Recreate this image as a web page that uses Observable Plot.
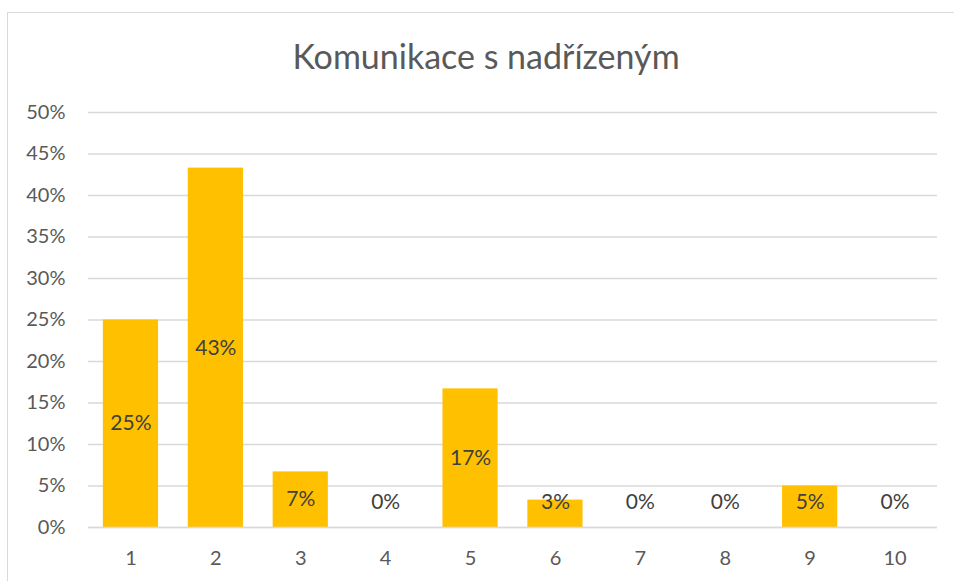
<!DOCTYPE html>
<html><head><meta charset="utf-8">
<script src="https://cdn.jsdelivr.net/npm/d3@7"></script>
<script src="https://cdn.jsdelivr.net/npm/@observablehq/plot@0.6"></script>
<style>
body{margin:0;background:#fff;width:954px;height:581px;overflow:hidden;position:relative}
#frame{position:absolute;left:7px;top:12px;width:970px;height:600px;border:1px solid #d9d9d9;box-sizing:border-box}
#title{position:absolute;left:0;width:972px;top:36px;text-align:center;font-family:Lato;font-size:34px;line-height:40px;color:#595959}
#chart{position:absolute;left:0;top:80px}
</style></head>
<body>
<div id="frame"></div>
<div id="title">Komunikace s nadřízeným</div>
<div id="chart"></div>
<script>
const categories = ["1","2","3","4","5","6","7","8","9","10"];
const values = [25, 43.3, 6.7, 0, 16.7, 3.3, 0, 0, 5, 0];
const labels = ["25%","43%","7%","0%","17%","3%","0%","0%","5%","0%"];
const yTicks = [0,5,10,15,20,25,30,35,40,45,50];
const data = categories.map((c,i)=>({cat:c,value:values[i],label:labels[i]}));
const chart = Plot.plot({
  width:954,height:501,marginTop:32,marginBottom:54,marginLeft:88,marginRight:17,
  style:{fontFamily:"Lato",fontSize:"20px",color:"#595959",background:"transparent"},
  x:{domain:categories,paddingInner:0.35,paddingOuter:0.175,round:false,label:null,tickSize:0,tickPadding:23},
  y:{domain:[0,50],ticks:yTicks,tickFormat:d=>d+"%",label:null,tickSize:0,tickPadding:23},
  marks:[
    Plot.gridY(yTicks,{stroke:"#d9d9d9",strokeOpacity:1,strokeWidth:1.3}),
    Plot.barY(data,{x:"cat",y:"value",fill:"#FFC000"}),
    Plot.ruleY([0],{stroke:"#d9d9d9",strokeWidth:1.3}),
    Plot.text(data,{x:"cat",y:d=>Math.max(d.value/2,3.1),text:"label",fill:"#404040",fontSize:21})
  ]
});
document.getElementById("chart").appendChild(chart);
</script>
</body></html>
